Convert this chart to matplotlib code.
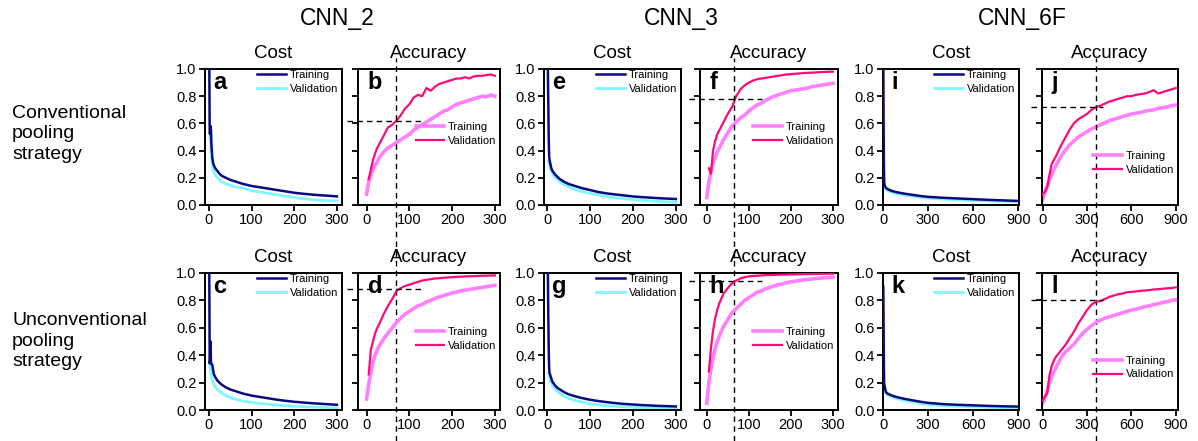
import numpy as np
import matplotlib.pyplot as plt

plt.rcParams['font.family'] = ['Liberation Sans', 'DejaVu Sans']

nan = np.nan

x300_cost = [0, 1, 2, 3, 4, 5, 6, 8, 10, 12, 15, 20, 25, 30, 40, 50, 60, 80, 100,
             120, 140, 160, 180, 200, 220, 240, 260, 280, 300]
x900_cost = [0, 2, 4, 6, 8, 10, 15, 20, 30, 40, 60, 80, 100, 150, 200, 250, 300,
             400, 500, 600, 700, 800, 900]
x300_acc = [0, 5, 10, 15, 20, 25, 30, 40, 50, 60, 70, 80, 90, 100, 110, 120, 130,
            140, 150, 160, 170, 180, 190, 200, 210, 220, 230, 240, 250, 260, 270,
            280, 290, 300]
x900_acc = [0, 15, 30, 45, 60, 75, 90, 120, 150, 180, 210, 240, 270, 300, 330, 360,
            390, 420, 450, 480, 510, 540, 570, 600, 630, 660, 690, 720, 750, 780,
            810, 840, 870, 900]

# ---- cost curves ----
a_train = [1.5, 1.05, 0.53, 0.52, 0.58, 0.55, 0.45, 0.35, 0.31, 0.29, 0.27, 0.25,
           0.23, 0.215, 0.20, 0.185, 0.175, 0.155, 0.14, 0.13, 0.12, 0.11, 0.10,
           0.09, 0.083, 0.077, 0.072, 0.068, 0.063]
a_val = [nan, nan, 0.50, 0.48, 0.45, 0.40, 0.36, 0.30, 0.26, 0.24, 0.22, 0.20,
         0.185, 0.17, 0.155, 0.145, 0.135, 0.125, 0.105, 0.095, 0.085, 0.075,
         0.065, 0.055, 0.048, 0.04, 0.035, 0.032, 0.03]
c_train = [1.5, 1.0, 0.34, 0.36, 0.50, 0.35, 0.34, 0.33, 0.29, 0.26, 0.24, 0.215,
           0.20, 0.185, 0.165, 0.15, 0.14, 0.12, 0.105, 0.095, 0.085, 0.075, 0.067,
           0.06, 0.055, 0.05, 0.046, 0.042, 0.038]
c_val = [nan, nan, 0.33, 0.31, 0.29, 0.27, 0.25, 0.22, 0.20, 0.185, 0.17, 0.15,
         0.135, 0.125, 0.105, 0.09, 0.08, 0.065, 0.055, 0.048, 0.042, 0.036, 0.031,
         0.027, 0.024, 0.021, 0.019, 0.017, 0.015]
e_train = [1.6, 1.3, 1.0, 0.75, 0.5, 0.36, 0.33, 0.30, 0.27, 0.255, 0.24, 0.22,
           0.205, 0.19, 0.17, 0.155, 0.145, 0.125, 0.11, 0.095, 0.085, 0.077, 0.07,
           0.063, 0.058, 0.054, 0.05, 0.047, 0.044]
e_val = [nan, nan, nan, 0.32, 0.31, 0.30, 0.29, 0.27, 0.25, 0.235, 0.22, 0.20,
         0.185, 0.17, 0.15, 0.135, 0.12, 0.10, 0.085, 0.073, 0.062, 0.053, 0.046,
         0.04, 0.035, 0.03, 0.026, 0.023, 0.02]
g_train = [1.6, 1.3, 1.0, 0.7, 0.45, 0.3, 0.27, 0.25, 0.23, 0.21, 0.195, 0.175,
           0.16, 0.15, 0.13, 0.115, 0.105, 0.088, 0.075, 0.065, 0.057, 0.05, 0.044,
           0.04, 0.036, 0.033, 0.03, 0.028, 0.026]
g_val = [nan, nan, nan, 0.27, 0.26, 0.25, 0.24, 0.22, 0.20, 0.185, 0.17, 0.15,
         0.135, 0.12, 0.10, 0.085, 0.075, 0.058, 0.046, 0.038, 0.031, 0.026, 0.022,
         0.019, 0.017, 0.015, 0.013, 0.012, 0.011]
i_train = [1.5, 1.1, 0.6, 0.3, 0.17, 0.15, 0.135, 0.125, 0.118, 0.112, 0.103, 0.097,
           0.092, 0.082, 0.074, 0.066, 0.06, 0.053, 0.048, 0.043, 0.038, 0.034, 0.03]
i_val = [nan, nan, nan, 0.16, 0.15, 0.14, 0.125, 0.115, 0.105, 0.1, 0.092, 0.086,
         0.081, 0.072, 0.064, 0.056, 0.05, 0.043, 0.038, 0.034, 0.03, 0.027, 0.024]
k_train = [0.91, 0.9, 0.6, 0.3, 0.19, 0.18, 0.15, 0.13, 0.12, 0.115, 0.105, 0.098,
           0.092, 0.08, 0.07, 0.06, 0.052, 0.043, 0.038, 0.034, 0.03, 0.027, 0.025]
k_val = [nan, nan, nan, 0.19, 0.18, 0.17, 0.14, 0.12, 0.11, 0.105, 0.095, 0.088,
         0.08, 0.068, 0.058, 0.048, 0.04, 0.032, 0.026, 0.022, 0.019, 0.017, 0.015]

# ---- accuracy curves ----
b_train = [0.08, 0.17, 0.22, 0.26, 0.29, 0.32, 0.35, 0.39, 0.42, 0.44, 0.46, 0.48,
           0.50, 0.52, 0.55, 0.57, 0.59, 0.61, 0.63, 0.65, 0.67, 0.69, 0.70, 0.72,
           0.74, 0.75, 0.76, 0.77, 0.78, 0.79, 0.80, 0.795, 0.81, 0.80]
b_val = [nan, 0.19, 0.26, 0.33, 0.38, 0.42, 0.45, 0.51, 0.57, 0.59, 0.62, 0.66,
         0.71, 0.74, 0.79, 0.81, 0.80, 0.86, 0.84, 0.87, 0.89, 0.90, 0.91, 0.92,
         0.93, 0.93, 0.94, 0.93, 0.945, 0.95, 0.95, 0.955, 0.96, 0.95]
d_train = [0.08, 0.19, 0.27, 0.35, 0.40, 0.44, 0.47, 0.52, 0.56, 0.60, 0.64, 0.67,
           0.70, 0.72, 0.74, 0.76, 0.77, 0.79, 0.80, 0.815, 0.825, 0.835, 0.845,
           0.855, 0.86, 0.87, 0.875, 0.88, 0.885, 0.89, 0.895, 0.90, 0.905, 0.91]
d_val = [nan, 0.26, 0.44, 0.50, 0.56, 0.60, 0.63, 0.70, 0.76, 0.81, 0.87, 0.89,
         0.905, 0.915, 0.925, 0.935, 0.945, 0.95, 0.955, 0.96, 0.962, 0.965, 0.967,
         0.97, 0.972, 0.973, 0.975, 0.976, 0.977, 0.978, 0.98, 0.98, 0.982, 0.982]
f_train = [0.055, 0.17, 0.24, 0.31, 0.35, 0.39, 0.42, 0.48, 0.53, 0.58, 0.61, 0.64,
           0.66, 0.69, 0.715, 0.735, 0.75, 0.77, 0.785, 0.80, 0.81, 0.82, 0.83,
           0.84, 0.845, 0.85, 0.855, 0.86, 0.87, 0.875, 0.88, 0.885, 0.89, 0.895]
f_val = [nan, 0.27, 0.23, 0.40, 0.47, 0.52, 0.55, 0.61, 0.67, 0.72, 0.80, 0.85,
         0.88, 0.90, 0.915, 0.925, 0.93, 0.935, 0.94, 0.945, 0.95, 0.955, 0.96,
         0.962, 0.965, 0.967, 0.97, 0.972, 0.973, 0.975, 0.977, 0.978, 0.98, 0.98]
h_train = [0.05, 0.2, 0.3, 0.38, 0.45, 0.5, 0.54, 0.61, 0.66, 0.71, 0.74, 0.77,
           0.80, 0.82, 0.84, 0.86, 0.87, 0.885, 0.895, 0.905, 0.915, 0.92, 0.93,
           0.935, 0.94, 0.945, 0.95, 0.953, 0.956, 0.96, 0.962, 0.965, 0.967, 0.97]
h_val = [nan, 0.28, 0.45, 0.58, 0.67, 0.73, 0.78, 0.85, 0.89, 0.925, 0.945, 0.96,
         0.97, 0.975, 0.978, 0.98, 0.982, 0.984, 0.985, 0.986, 0.987, 0.988, 0.989,
         0.99, 0.99, 0.991, 0.992, 0.992, 0.993, 0.993, 0.994, 0.994, 0.995, 0.995]
j_train = [0.04, 0.09, 0.14, 0.18, 0.22, 0.26, 0.29, 0.35, 0.40, 0.44, 0.47, 0.50,
           0.52, 0.54, 0.56, 0.575, 0.59, 0.605, 0.62, 0.63, 0.64, 0.65, 0.66, 0.67,
           0.675, 0.68, 0.69, 0.695, 0.70, 0.71, 0.715, 0.72, 0.73, 0.735]
j_val = [0.08, 0.10, 0.13, 0.22, 0.30, 0.33, 0.36, 0.43, 0.49, 0.55, 0.60, 0.63,
         0.65, 0.67, 0.70, 0.72, 0.73, 0.745, 0.76, 0.77, 0.78, 0.79, 0.80, 0.80,
         0.81, 0.815, 0.82, 0.83, 0.845, 0.82, 0.83, 0.84, 0.85, 0.86]
l_train = [0.05, 0.09, 0.14, 0.20, 0.24, 0.28, 0.31, 0.375, 0.42, 0.45, 0.48, 0.52,
           0.56, 0.59, 0.615, 0.64, 0.655, 0.67, 0.68, 0.69, 0.70, 0.71, 0.72, 0.73,
           0.735, 0.745, 0.755, 0.76, 0.77, 0.775, 0.785, 0.79, 0.80, 0.805]
l_val = [0.07, 0.10, 0.12, 0.25, 0.32, 0.36, 0.39, 0.43, 0.47, 0.52, 0.57, 0.63,
         0.68, 0.73, 0.77, 0.79, 0.795, 0.81, 0.825, 0.835, 0.845, 0.85, 0.86,
         0.862, 0.865, 0.87, 0.872, 0.875, 0.88, 0.882, 0.885, 0.888, 0.89, 0.895]

# dashed guide: (epoch, accuracy) for each accuracy panel
guide_epoch = [70, 65, 360]
guide_acc_top = [0.62, 0.78, 0.72]
guide_acc_bot = [0.88, 0.94, 0.80]

models = ["CNN_2", "CNN_3", "CNN_6F"]
rows = ["Conventional\npooling\nstrategy", "Unconventional\npooling\nstrategy"]

C_TR = "#0b0b80"
C_VA = "#7ff7ff"
A_TR = "#ff80ff"
A_VA = "#ff0a78"

W, H = 1198, 441
fig = plt.figure(figsize=(W / 100, H / 100), dpi=100)

col_px = [(205, 342), (358, 500), (544, 681), (700, 838), (883, 1019), (1042, 1178)]
row_px = [(69, 205), (273, 410)]


def add_ax(col, row):
    x0, x1 = col_px[col]
    y0, y1 = row_px[row]
    ax = fig.add_axes([x0 / W, 1 - y1 / H, (x1 - x0) / W, (y1 - y0) / H])
    ax.set_facecolor("none")
    for s in ax.spines.values():
        s.set_linewidth(1.4)
    ax.tick_params(direction="out", length=4, width=1.3, labelsize=10.5, pad=2,
                   top=False, right=False)
    ax.set_ylim(0, 1.0)
    ax.set_yticks([0, 0.2, 0.4, 0.6, 0.8, 1.0])
    return ax


cost = [[(a_train, a_val), (e_train, e_val), (i_train, i_val)],
        [(c_train, c_val), (g_train, g_val), (k_train, k_val)]]
acc = [[(b_train, b_val), (f_train, f_val), (j_train, j_val)],
       [(d_train, d_val), (h_train, h_val), (l_train, l_val)]]
letters = [["a", "b", "e", "f", "i", "j"], ["c", "d", "g", "h", "k", "l"]]
cost_xlim = [(-9, 312), (-7, 312), (0, 905)]
acc_xlim = [(-20, 312), (-16, 312), (-5, 915)]
acc_leg_y = [0.52, 0.52, 0.31]

for r in range(2):
    for m in range(3):
        long = m == 2
        xc = x900_cost if long else x300_cost
        xa = x900_acc if long else x300_acc
        xt = [0, 300, 600, 900] if long else [0, 100, 200, 300]

        ax = add_ax(2 * m, r)
        tr, va = cost[r][m]
        ax.plot(xc, va, color=C_VA, lw=2.0, label="Validation", zorder=2)
        ax.plot(xc, tr, color=C_TR, lw=1.8, label="Training", zorder=3)
        ax.set_xlim(*cost_xlim[m])
        ax.set_xticks(xt)
        ax.set_title("Cost", fontsize=13.5, pad=8)
        h, lab = ax.get_legend_handles_labels()
        ax.legend(h[::-1], lab[::-1], loc="upper right", bbox_to_anchor=(1.02, 1.04),
                  frameon=False, fontsize=8, handlelength=2.6, handletextpad=0.3,
                  labelspacing=0.35, borderaxespad=0.2)
        ax.text(0.06, 0.9, letters[r][2 * m], transform=ax.transAxes,
                fontsize=17, fontweight="bold", va="center", ha="left")

        ax2 = add_ax(2 * m + 1, r)
        tr, va = acc[r][m]
        ax2.plot(xa, tr, color=A_TR, lw=2.6, label="Training", zorder=2)
        ax2.plot(xa, va, color=A_VA, lw=1.6, label="Validation", zorder=3)
        ax2.set_xlim(*acc_xlim[m])
        ax2.set_xticks(xt)
        ax2.set_yticklabels([])
        ax2.set_title("Accuracy", fontsize=13.5, pad=8)
        ax2.legend(loc="center right", bbox_to_anchor=(1.02, acc_leg_y[m]),
                   frameon=False, fontsize=8, handlelength=2.6, handletextpad=0.3,
                   labelspacing=0.35, borderaxespad=0.2)
        ax2.text(0.07, 0.9, letters[r][2 * m + 1], transform=ax2.transAxes,
                 fontsize=17, fontweight="bold", va="center", ha="left")

        gy = guide_acc_top[m] if r == 0 else guide_acc_bot[m]
        ax2.axhline(gy, xmin=-0.08, xmax=0.45, color="black", lw=1.0,
                    ls=(0, (4, 3)), clip_on=False, zorder=4)
        if r == 0:
            y0, y1 = row_px[0]
            ax2.axvline(guide_epoch[m], ymin=-(H - y1) / (y1 - y0),
                        ymax=1 + 11 / (y1 - y0), color="black", lw=1.0,
                        ls=(0, (4, 3)), clip_on=False, zorder=4)

for x, name in zip([337, 681, 1022], models):
    fig.text(x / W, 1 - 19 / H, name, fontsize=16.5, ha="center", va="center")
for y, name in zip([134, 341], rows):
    fig.text(12 / W, 1 - y / H, name, fontsize=14, ha="left", va="center",
             linespacing=1.3)

fig.savefig("out.png", dpi=100)
